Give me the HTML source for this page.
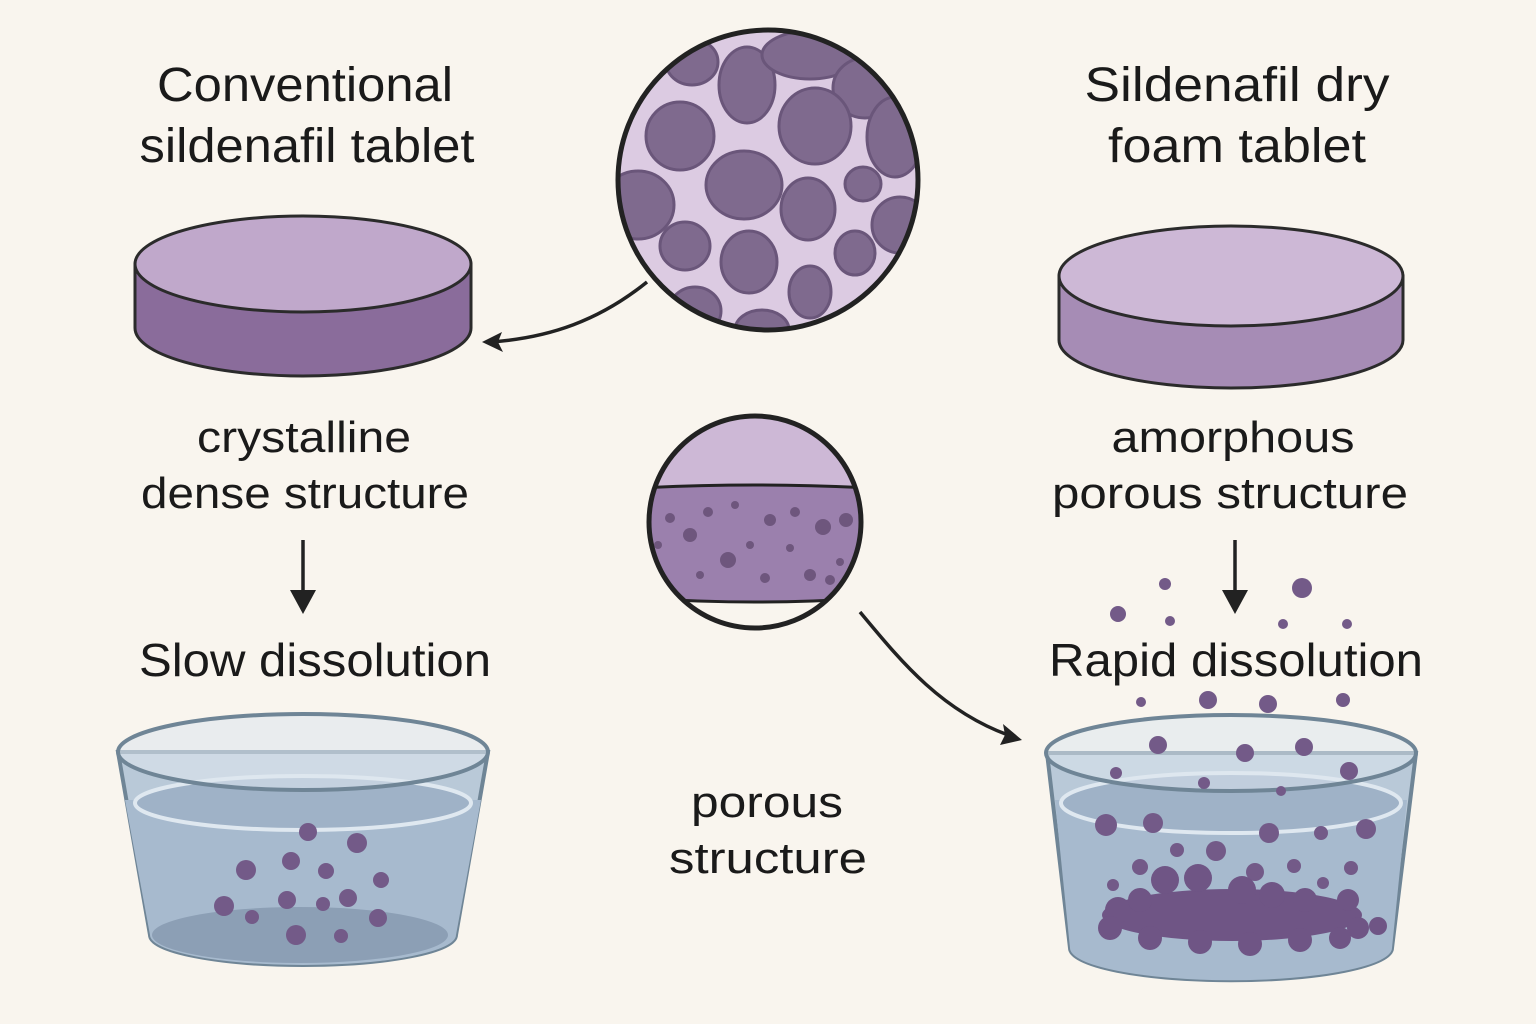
<!DOCTYPE html>
<html><head><meta charset="utf-8"><style>
html,body{margin:0;padding:0;background:#f9f5ee}
svg{display:block}
text{font-family:"Liberation Sans",sans-serif;fill:#1a1a1a;text-anchor:middle}
</style></head><body>
<svg width="1536" height="1024" viewBox="0 0 1536 1024" xmlns="http://www.w3.org/2000/svg">
<defs>
<clipPath id="c1"><circle cx="768" cy="180" r="150"/></clipPath>
<clipPath id="c2"><circle cx="755" cy="522" r="106"/></clipPath>
</defs>
<rect width="1536" height="1024" fill="#f9f5ee"/>

<text x="305" y="101" font-size="48" textLength="296" lengthAdjust="spacingAndGlyphs">Conventional</text>
<text x="307" y="162" font-size="48" textLength="335" lengthAdjust="spacingAndGlyphs">sildenafil tablet</text>
<text x="1237" y="101" font-size="48" textLength="305" lengthAdjust="spacingAndGlyphs">Sildenafil dry</text>
<text x="1237" y="162" font-size="48" textLength="258" lengthAdjust="spacingAndGlyphs">foam tablet</text>

<!-- left tablet -->
<path d="M135,264 L135,328 A168,48 0 0 0 471,328 L471,264 Z" fill="#8a6c9b" stroke="#2b2b2b" stroke-width="3"/>
<ellipse cx="303" cy="264" rx="168" ry="48" fill="#c0a8cb" stroke="#2b2b2b" stroke-width="3"/>
<!-- right tablet -->
<path d="M1059,276 L1059,340 A172,48 0 0 0 1403,340 L1403,276 Z" fill="#a68cb5" stroke="#2b2b2b" stroke-width="3"/>
<ellipse cx="1231" cy="276" rx="172" ry="50" fill="#cdb8d6" stroke="#2b2b2b" stroke-width="3"/>

<!-- top circle -->
<g clip-path="url(#c1)">
<rect x="600" y="20" width="340" height="330" fill="#dccbe2"/>
<g fill="#7f6a8e" stroke="#6a567a" stroke-width="3">
<ellipse cx="692" cy="62" rx="26" ry="23"/>
<ellipse cx="747" cy="85" rx="28" ry="38"/>
<ellipse cx="810" cy="55" rx="48" ry="24"/>
<ellipse cx="865" cy="88" rx="32" ry="30"/>
<ellipse cx="680" cy="136" rx="34" ry="34"/>
<ellipse cx="815" cy="126" rx="36" ry="38"/>
<ellipse cx="895" cy="137" rx="28" ry="40"/>
<ellipse cx="744" cy="185" rx="38" ry="34"/>
<ellipse cx="638" cy="205" rx="36" ry="34"/>
<ellipse cx="808" cy="209" rx="27" ry="31"/>
<ellipse cx="863" cy="184" rx="18" ry="17"/>
<ellipse cx="900" cy="225" rx="28" ry="28"/>
<ellipse cx="685" cy="246" rx="25" ry="24"/>
<ellipse cx="749" cy="262" rx="28" ry="31"/>
<ellipse cx="855" cy="253" rx="20" ry="22"/>
<ellipse cx="810" cy="292" rx="21" ry="26"/>
<ellipse cx="695" cy="311" rx="26" ry="24"/>
<ellipse cx="762" cy="330" rx="27" ry="20"/>
</g>
</g>
<circle cx="768" cy="180" r="150" fill="none" stroke="#222" stroke-width="5"/>
<path d="M647,282 C600,320 550,338 490,342" fill="none" stroke="#222" stroke-width="3.5"/>
<path d="M482,342 L502,332 L498,342 L503,352 Z" fill="#222"/>

<text x="304" y="452" font-size="44" textLength="214" lengthAdjust="spacingAndGlyphs">crystalline</text>
<text x="305" y="508" font-size="44" textLength="328" lengthAdjust="spacingAndGlyphs">dense structure</text>
<text x="1233" y="452" font-size="44" textLength="243" lengthAdjust="spacingAndGlyphs">amorphous</text>
<text x="1230" y="508" font-size="44" textLength="356" lengthAdjust="spacingAndGlyphs">porous structure</text>

<!-- mid circle -->
<g clip-path="url(#c2)">
<rect x="640" y="410" width="230" height="80" fill="#cdb8d6"/>
<path d="M640,488 Q755,482 870,488 L870,598 Q755,606 640,598 Z" fill="#9b80ad" stroke="#222" stroke-width="3"/>
<g fill="#6e567d">
<circle cx="670" cy="518" r="5"/><circle cx="708" cy="512" r="5"/><circle cx="690" cy="535" r="7"/><circle cx="735" cy="505" r="4"/>
<circle cx="728" cy="560" r="8"/><circle cx="770" cy="520" r="6"/><circle cx="790" cy="548" r="4"/><circle cx="795" cy="512" r="5"/>
<circle cx="823" cy="527" r="8"/><circle cx="846" cy="520" r="7"/><circle cx="810" cy="575" r="6"/><circle cx="765" cy="578" r="5"/>
<circle cx="658" cy="545" r="4"/><circle cx="700" cy="575" r="4"/><circle cx="840" cy="562" r="4"/><circle cx="830" cy="580" r="5"/><circle cx="750" cy="545" r="4"/>
</g>
</g>
<circle cx="755" cy="522" r="106" fill="none" stroke="#222" stroke-width="5"/>
<path d="M860,612 C900,660 940,710 1008,735" fill="none" stroke="#222" stroke-width="3.5"/>
<path d="M1022,740 L1000,745 L1005,735 L1003,724 Z" fill="#222"/>

<!-- down arrows -->
<line x1="303" y1="540" x2="303" y2="595" stroke="#222" stroke-width="3.5"/>
<path d="M290,590 L316,590 L303,614 Z" fill="#222"/>
<line x1="1235" y1="540" x2="1235" y2="595" stroke="#222" stroke-width="3.5"/>
<path d="M1222,590 L1248,590 L1235,614 Z" fill="#222"/>

<text x="315" y="676" font-size="46" textLength="352" lengthAdjust="spacingAndGlyphs">Slow dissolution</text>
<text x="1236" y="676" font-size="46" textLength="374" lengthAdjust="spacingAndGlyphs">Rapid dissolution</text>
<text x="767" y="817" font-size="44" textLength="152" lengthAdjust="spacingAndGlyphs">porous</text>
<text x="768" y="873" font-size="44" textLength="198" lengthAdjust="spacingAndGlyphs">structure</text>

<!-- left beaker -->
<path d="M118,752 L150,935 A153,30 0 0 0 456,935 L488,752 Z" fill="#b9c9d8" stroke="#6f8596" stroke-width="4"/>
<path d="M125,800 L150,935 A153,30 0 0 0 456,935 L481,800 Z" fill="#a7bace"/>
<ellipse cx="303" cy="803" rx="168" ry="27" fill="#9fb2c7" stroke="#dfe8f0" stroke-width="4"/>
<ellipse cx="300" cy="935" rx="148" ry="28" fill="#8c9fb5"/>
<ellipse cx="303" cy="752" rx="185" ry="38" fill="#dde6ee" fill-opacity="0.6" stroke="#6f8596" stroke-width="4"/>
<g fill="#735a88">
<circle cx="308" cy="832" r="9"/><circle cx="357" cy="843" r="10"/><circle cx="246" cy="870" r="10"/><circle cx="291" cy="861" r="9"/>
<circle cx="326" cy="871" r="8"/><circle cx="381" cy="880" r="8"/><circle cx="287" cy="900" r="9"/><circle cx="348" cy="898" r="9"/>
<circle cx="323" cy="904" r="7"/><circle cx="224" cy="906" r="10"/><circle cx="252" cy="917" r="7"/><circle cx="378" cy="918" r="9"/>
<circle cx="296" cy="935" r="10"/><circle cx="341" cy="936" r="7"/>
</g>

<!-- right beaker -->
<path d="M1047,753 L1070,948 A160,32 0 0 0 1392,948 L1416,753 Z" fill="#b9c9d8" stroke="#6f8596" stroke-width="4"/>
<path d="M1055,800 L1070,948 A160,32 0 0 0 1392,948 L1407,800 Z" fill="#a7bace"/>
<ellipse cx="1231" cy="803" rx="170" ry="30" fill="#9fb2c7" stroke="#dfe8f0" stroke-width="4"/>
<ellipse cx="1231" cy="753" rx="185" ry="38" fill="#dde6ee" fill-opacity="0.55" stroke="#6f8596" stroke-width="4"/>
<g fill="#735a88">
<circle cx="1165" cy="584" r="6"/><circle cx="1302" cy="588" r="10"/><circle cx="1118" cy="614" r="8"/><circle cx="1170" cy="621" r="5"/><circle cx="1283" cy="624" r="5"/><circle cx="1347" cy="624" r="5"/>
<circle cx="1141" cy="702" r="5"/><circle cx="1208" cy="700" r="9"/><circle cx="1268" cy="704" r="9"/><circle cx="1343" cy="700" r="7"/>
<circle cx="1158" cy="745" r="9"/><circle cx="1245" cy="753" r="9"/><circle cx="1304" cy="747" r="9"/><circle cx="1349" cy="771" r="9"/>
<circle cx="1116" cy="773" r="6"/><circle cx="1204" cy="783" r="6"/><circle cx="1281" cy="791" r="5"/>
<circle cx="1106" cy="825" r="11"/><circle cx="1153" cy="823" r="10"/><circle cx="1269" cy="833" r="10"/><circle cx="1321" cy="833" r="7"/><circle cx="1366" cy="829" r="10"/>
<circle cx="1177" cy="850" r="7"/><circle cx="1216" cy="851" r="10"/><circle cx="1140" cy="867" r="8"/><circle cx="1255" cy="872" r="9"/><circle cx="1294" cy="866" r="7"/><circle cx="1351" cy="868" r="7"/><circle cx="1323" cy="883" r="6"/><circle cx="1113" cy="885" r="6"/>
</g>
<g fill="#6f5585">
<ellipse cx="1232" cy="915" rx="130" ry="26"/>
<circle cx="1165" cy="880" r="14"/><circle cx="1198" cy="878" r="14"/><circle cx="1242" cy="890" r="14"/><circle cx="1272" cy="895" r="13"/><circle cx="1305" cy="900" r="12"/><circle cx="1348" cy="900" r="11"/>
<circle cx="1118" cy="910" r="13"/><circle cx="1110" cy="928" r="12"/><circle cx="1140" cy="900" r="12"/><circle cx="1358" cy="928" r="11"/><circle cx="1378" cy="926" r="9"/>
<circle cx="1150" cy="938" r="12"/><circle cx="1200" cy="942" r="12"/><circle cx="1250" cy="944" r="12"/><circle cx="1300" cy="940" r="12"/><circle cx="1340" cy="938" r="11"/>
</g>
</svg>
</body></html>
